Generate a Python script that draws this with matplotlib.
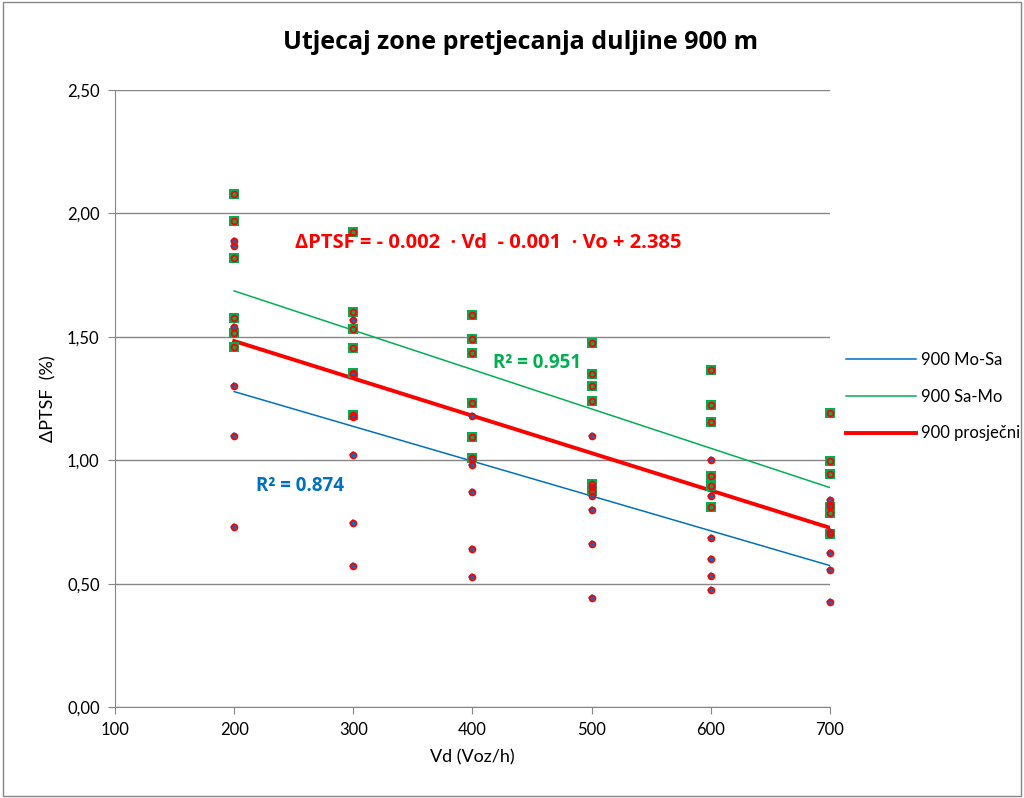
import matplotlib.pyplot as plt
from matplotlib.patches import Rectangle

plt.rcParams['font.family'] = ['Lato', 'DejaVu Sans']

# Podaci ocitani sa slike
vd = [200, 300, 400, 500, 600, 700]

mo_sa = [
    [1.89, 1.87, 1.54, 1.30, 1.10, 0.73],
    [1.57, 1.35, 1.175, 1.02, 0.745, 0.57],
    [1.18, 1.005, 0.98, 0.87, 0.64, 0.525],
    [1.10, 0.89, 0.855, 0.80, 0.66, 0.44],
    [1.00, 0.855, 0.685, 0.60, 0.53, 0.475],
    [0.84, 0.82, 0.71, 0.625, 0.555, 0.425],
]
sa_mo = [
    [2.08, 1.97, 1.82, 1.575, 1.515, 1.46],
    [1.925, 1.60, 1.53, 1.455, 1.355, 1.185],
    [1.59, 1.49, 1.435, 1.23, 1.095, 1.01],
    [1.475, 1.35, 1.30, 1.24, 0.905, 0.875],
    [1.365, 1.225, 1.155, 0.935, 0.895, 0.81],
    [1.19, 0.995, 0.945, 0.81, 0.785, 0.70],
]

# Linije trenda (pocetak i kraj)
trend_x = [200, 700]
trend_mo_sa = [1.278, 0.573]
trend_sa_mo = [1.686, 0.889]
trend_avg = [1.483, 0.726]

c_blue = '#0070C0'
c_green = '#00B050'
c_red = '#FF0000'
bold_font = ['Open Sans', 'DejaVu Sans']

fig = plt.figure(figsize=(10.24, 7.98), dpi=100)
ax = fig.add_axes([0.1123, 0.1140, 0.6982, 0.7732])

# tocke
for i, x in enumerate(vd):
    ax.plot([x] * len(sa_mo[i]), sa_mo[i], 's', color=c_green, ms=6.5, mew=0, zorder=3, clip_on=False)
    ax.plot([x] * len(mo_sa[i]), mo_sa[i], 'D', color=c_blue, ms=4.5, mew=0, zorder=3, clip_on=False)
for i, x in enumerate(vd):
    ax.plot([x] * 12, sa_mo[i] + mo_sa[i], 'o', mfc='none', mec=c_red, ms=4.2, mew=1.3, zorder=4,
            clip_on=False)

# trend linije
ax.plot(trend_x, trend_mo_sa, color=c_blue, lw=1.1, label='900 Mo-Sa', zorder=2)
ax.plot(trend_x, trend_sa_mo, color=c_green, lw=1.1, label='900 Sa-Mo', zorder=2)
ax.plot(trend_x, trend_avg, color=c_red, lw=2.8, label='900 prosječni', zorder=2)

ax.set_xlim(100, 700)
ax.set_ylim(0, 2.5)
ax.set_xticks(range(100, 701, 100))
ax.set_yticks([0, 0.5, 1.0, 1.5, 2.0, 2.5])
ax.set_yticklabels(['0,00', '0,50', '1,00', '1,50', '2,00', '2,50'])
ax.tick_params(labelsize=12, length=5, color='#868686', pad=6)
ax.grid(axis='y', color='#868686', lw=1)
ax.set_axisbelow(True)
for s in ['top', 'right']:
    ax.spines[s].set_visible(False)
for s in ['left', 'bottom']:
    ax.spines[s].set_color('#868686')

ax.set_xlabel('Vd (Voz/h)', fontsize=13, labelpad=8)
ax.set_ylabel('ΔPTSF  (%)', fontsize=13, labelpad=8)
fig.text(0.508, 0.947, 'Utjecaj zone pretjecanja duljine 900 m', ha='center', va='center',
         fontsize=18, fontweight='bold', family=bold_font)

fig.text(488 / 1024, 1 - 243 / 798, 'ΔPTSF = - 0.002  · Vd  - 0.001  · Vo + 2.385',
         ha='center', va='center', color=c_red, fontsize=14.5, fontweight='bold', family=bold_font)
fig.text(493 / 1024, 1 - 363 / 798, 'R² = 0.951', ha='left', va='center', color=c_green,
         fontsize=13.5, fontweight='bold', family=bold_font)
fig.text(256 / 1024, 1 - 486 / 798, 'R² = 0.874', ha='left', va='center', color=c_blue,
         fontsize=13.5, fontweight='bold', family=bold_font)

fig.legend(loc='center left', bbox_to_anchor=(0.812, 0.503), frameon=False, fontsize=12,
           handlelength=4.2, labelspacing=1.25, handletextpad=0.3)

fig.patches.append(Rectangle((0.003, 0.003), 0.994, 0.994, transform=fig.transFigure,
                             fill=False, edgecolor='#868686', lw=1))

fig.savefig('out.png', dpi=100)
